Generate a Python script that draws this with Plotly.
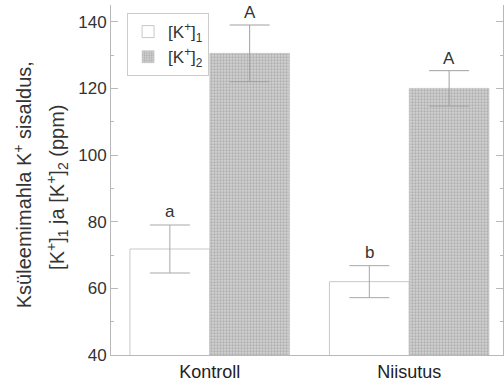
import plotly.graph_objects as go

categories = ["Kontroll", "Niisutus"]
k1_values = [71.8, 62.0]
k1_errors = [7.2, 4.8]
k2_values = [130.5, 120.0]
k2_errors = [8.5, 5.3]
k1_letters = ["a", "b"]
k2_letters = ["A", "A"]
y_ticks = [40, 60, 80, 100, 120, 140]

FONT = "Arial, Liberation Sans, sans-serif"
TXT = "#333333"
AX = "#b8b8b8"

fig = go.Figure()
fig.add_trace(go.Bar(
    x=categories, y=k1_values, name="[K<sup>+</sup>]<sub>1</sub>",
    marker=dict(color="white", line=dict(color="#c8c8c8", width=1)),
    error_y=dict(type="data", array=k1_errors, color="#a8a8a8", thickness=1, width=20),
))
fig.add_trace(go.Bar(
    x=categories, y=k2_values, name="[K<sup>+</sup>]<sub>2</sub>",
    marker=dict(color="#c4c4c4", line=dict(color="#bdbdbd", width=0.5),
                pattern=dict(shape=".", fgcolor="#8c8c8c", bgcolor="#d2d2d2", size=3, solidity=0.45)),
    error_y=dict(type="data", array=k2_errors, color="#a0a0a0", thickness=1, width=20),
))

ann = []
for c, v, e, t in zip(categories, k1_values, k1_errors, k1_letters):
    ann.append(dict(x=c, y=v + e, text=t, xshift=-40, yshift=2, yanchor="bottom",
                    showarrow=False, font=dict(size=17, color=TXT, family=FONT)))
for c, v, e, t in zip(categories, k2_values, k2_errors, k2_letters):
    ann.append(dict(x=c, y=v + e, text=t, xshift=40, yshift=1, yanchor="bottom",
                    showarrow=False, font=dict(size=17, color=TXT, family=FONT)))
# y-axis title in two lines
ann.append(dict(xref="paper", yref="paper", x=-0.227, y=0.485, textangle=-90,
                xanchor="center", yanchor="middle",
                text="Ksüleemimahla K<sup>+</sup> sisaldus,", showarrow=False,
                font=dict(size=20, color=TXT, family=FONT)))
ann.append(dict(xref="paper", yref="paper", x=-0.138, y=0.48, textangle=-90,
                xanchor="center", yanchor="middle",
                text="[K<sup>+</sup>]<sub>1</sub> ja [K<sup>+</sup>]<sub>2</sub> (ppm)", showarrow=False,
                font=dict(size=20, color=TXT, family=FONT)))

fig.update_layout(
    width=504, height=382,
    margin=dict(l=111, r=0, t=5, b=25),
    paper_bgcolor="white", plot_bgcolor="white",
    barmode="group", bargap=0.2, bargroupgap=0,
    font=dict(family=FONT, color=TXT, size=17),
    showlegend=True,
    legend=dict(x=0.041, y=0.977, xanchor="left", yanchor="top",
                bordercolor="#cccccc", borderwidth=1, bgcolor="white",
                font=dict(size=17, color=TXT), tracegroupgap=2),
    annotations=ann,
)
fig.update_xaxes(range=[-0.495, 1.47], showline=True, linecolor=AX, linewidth=1,
                 ticks="", tickfont=dict(size=18, color="#222"), showgrid=False, zeroline=False)
fig.update_yaxes(range=[40, 145], tickvals=y_ticks, showline=True, linecolor=AX, linewidth=1,
                 ticks="inside", ticklen=7, tickcolor=AX, mirror="ticks",
                 minor=dict(ticks="inside", ticklen=3, dtick=10, tickcolor=AX),
                 tickfont=dict(size=17, color=TXT), showgrid=False, zeroline=False)

fig.write_html("out.html")
